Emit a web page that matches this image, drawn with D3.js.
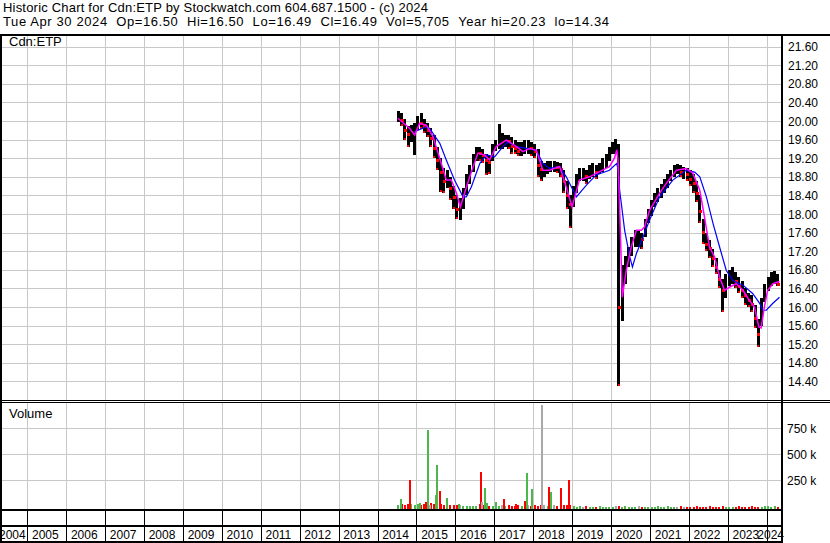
<!DOCTYPE html>
<html>
<head>
<meta charset="utf-8">
<script src="https://cdn.jsdelivr.net/npm/d3@7"></script>
<style>
body { margin: 0; background: #fff; }
svg { display: block; font-family: "Liberation Sans", Arial, sans-serif; }
</style>
</head>
<body>
<svg class="chart"></svg>
<script>
// monthly bars, Jul 2014 .. Apr 2024
var firstMonth = new Date(2014, 6, 1);
var closes = [
    20.10, 20.02, 19.80, 19.70, 19.75, 19.85,
    20.00, 19.95, 19.88, 19.80, 19.62, 19.40, 19.15, 18.90, 18.70, 18.75, 18.55, 18.35,
    18.10, 18.10, 18.35, 18.65, 18.90, 19.15, 19.35, 19.30, 19.25, 19.15, 19.10, 19.35,
    19.50, 19.55, 19.55, 19.60, 19.55, 19.45, 19.40, 19.35, 19.40, 19.45, 19.45, 19.40,
    19.35, 19.05, 18.95, 18.95, 19.00, 19.05, 19.05, 19.00, 18.95, 18.70, 18.40, 18.20,
    18.45, 18.70, 18.85, 18.85, 18.80, 18.90, 18.95, 18.90, 19.00, 19.05, 19.15, 19.30,
    19.45, 19.45, 16.00, 16.20, 16.85, 17.10, 17.35, 17.50, 17.50, 17.45, 17.75, 17.95,
    18.15, 18.30, 18.40, 18.50, 18.60, 18.70, 18.85, 18.95, 18.95, 18.90, 18.90, 18.85,
    18.75, 18.65, 18.45, 18.05, 17.60, 17.35, 17.25, 17.05, 16.85, 16.60, 16.35, 16.45,
    16.65, 16.70, 16.55, 16.45, 16.35, 16.25, 16.15, 16.05, 15.75, 15.40, 15.95, 16.35,
    16.50, 16.60, 16.65, 16.49
];
var highs = [
    20.22, 20.18, 20.05, 19.90, 19.92, 19.95,
    20.10, 20.17, 20.05, 19.95, 19.85, 19.70, 19.45, 19.20, 19.00, 18.95, 18.80, 18.60,
    18.40, 18.35, 18.55, 18.85, 19.05, 19.30, 19.45, 19.45, 19.40, 19.30, 19.25, 19.50,
    19.60, 19.93, 19.75, 19.70, 19.70, 19.65, 19.60, 19.55, 19.55, 19.60, 19.60, 19.55,
    19.50, 19.40, 19.15, 19.10, 19.15, 19.15, 19.15, 19.12, 19.10, 18.95, 18.70, 18.40,
    18.60, 18.85, 19.00, 19.00, 18.95, 19.05, 19.10, 19.05, 19.10, 19.20, 19.30, 19.45,
    19.55, 19.62, 19.50, 16.90, 17.10, 17.30, 17.50, 17.65, 17.65, 17.60, 17.90, 18.10,
    18.30, 18.45, 18.55, 18.65, 18.75, 18.85, 18.95, 19.05, 19.08, 19.05, 19.02, 19.00,
    18.95, 18.85, 18.70, 18.40, 17.90, 17.60, 17.45, 17.25, 17.05, 16.80, 16.60, 16.70,
    16.80, 16.85, 16.75, 16.65, 16.55, 16.40, 16.30, 16.25, 16.05, 15.75, 16.20, 16.50,
    16.65, 16.75, 16.78, 16.70
];
var lows = [
    19.98, 19.90, 19.60, 19.45, 19.55, 19.27,
    19.80, 19.82, 19.75, 19.65, 19.45, 19.20, 18.95, 18.48, 18.45, 18.55, 18.30, 18.10,
    17.90, 17.87, 18.10, 18.40, 18.65, 18.90, 19.15, 19.15, 19.10, 18.84, 18.85, 19.15,
    19.35, 19.40, 19.40, 19.45, 19.40, 19.30, 19.28, 19.25, 19.25, 19.30, 19.30, 19.25,
    19.20, 18.80, 18.72, 18.80, 18.85, 18.90, 18.90, 18.88, 18.80, 18.45, 18.10, 17.70,
    18.15, 18.45, 18.70, 18.70, 18.65, 18.75, 18.80, 18.75, 18.85, 18.90, 19.00, 19.15,
    19.30, 19.30, 14.31, 15.70, 16.50, 16.85, 17.10, 17.30, 17.30, 17.25, 17.50, 17.80,
    17.95, 18.15, 18.25, 18.35, 18.45, 18.55, 18.70, 18.80, 18.85, 18.80, 18.75, 18.70,
    18.60, 18.45, 18.25, 17.80, 17.35, 17.20, 17.05, 16.85, 16.70, 16.40, 15.90, 16.20,
    16.45, 16.50, 16.40, 16.30, 16.20, 16.05, 16.00, 15.90, 15.55, 15.15, 15.60, 16.10,
    16.35, 16.45, 16.50, 16.45
];
// typical monthly volume (thousands)
var monthVol = [
    15, 25, 20, 30, 25, 20,
    30, 20, 25, 20, 35, 25, 40, 30, 20, 25, 15, 20,
    15, 20, 10, 12, 10, 8, 12, 25, 15, 20, 12, 10,
    15, 10, 20, 12, 15, 10, 12, 15, 10, 20, 15, 12,
    15, 10, 20, 15, 12, 10, 15, 12, 10, 15, 20, 15,
    6, 4, 8, 4, 6, 4, 3, 4, 6, 4, 3, 4,
    4, 6, 10, 4, 6, 4, 3, 4, 8, 4, 3, 4,
    4, 3, 6, 4, 3, 8, 4, 3, 4, 6, 3, 4,
    3, 4, 6, 4, 3, 4, 10, 4, 3, 4, 6, 4,
    4, 3, 4, 6, 3, 4, 3, 6, 4, 3, 4, 8,
    10, 4, 6, 3
];
// single-day volume spikes
var spikeDates = ["2014-08-12", "2014-10-29", "2015-02-01", "2015-04-04", "2015-04-19", "2015-05-12",
    "2015-07-01", "2015-07-17", "2015-08-08", "2015-10-18", "2016-02-04", "2016-09-01", "2016-09-10",
    "2016-10-02", "2016-10-28", "2017-01-20", "2017-03-29", "2017-07-20", "2017-10-12", "2017-11-03",
    "2017-12-24", "2018-03-27", "2018-05-28", "2018-06-13", "2018-09-22", "2018-11-28"];
var spikeVols = [80, 261, 36, 48, 745, 20, 116, 403, 155, 87, 26, 338, 48, 184, 36, 48, 77, 29, 55, 329,
    174, 990, 193, 145, 184, 261];
var spikeDirs = ["g", "r", "g", "r", "g", "n", "g", "g", "r", "g", "g", "r", "n", "g", "g", "g", "r", "r", "r", "g",
    "g", "n", "r", "g", "r", "r"];

// moving averages
var fastMA = [
    ["2014-07-11", 20.06], ["2014-10-30", 19.84], ["2014-12-15", 19.70], ["2015-01-30", 19.95],
    ["2015-04-04", 19.91], ["2015-06-06", 19.66], ["2015-08-07", 19.20], ["2015-10-08", 18.73],
    ["2015-11-24", 18.73], ["2016-01-11", 18.45], ["2016-02-17", 18.15], ["2016-03-28", 18.45],
    ["2016-05-15", 18.80], ["2016-07-31", 19.31], ["2016-10-01", 19.27], ["2016-11-17", 19.16],
    ["2017-01-19", 19.45], ["2017-04-23", 19.59], ["2017-07-27", 19.45], ["2017-09-27", 19.34],
    ["2017-11-28", 19.41], ["2018-01-30", 19.37], ["2018-04-01", 18.94], ["2018-06-03", 18.94],
    ["2018-09-06", 19.02], ["2018-11-07", 18.58], ["2019-01-01", 18.15], ["2019-03-10", 18.73],
    ["2019-06-13", 18.80], ["2019-09-16", 18.91], ["2019-12-17", 19.02], ["2020-02-02", 19.20],
    ["2020-02-24", 19.38], ["2020-03-07", 19.16], ["2020-03-28", 17.65], ["2020-04-16", 16.21],
    ["2020-05-23", 16.79], ["2020-07-09", 17.29], ["2020-08-26", 17.65], ["2020-10-12", 17.65],
    ["2020-11-10", 17.72], ["2020-12-28", 18.08], ["2021-04-01", 18.45], ["2021-06-03", 18.66],
    ["2021-09-06", 18.94], ["2021-12-06", 18.98], ["2022-02-06", 18.88], ["2022-04-13", 18.51],
    ["2022-05-27", 17.94], ["2022-07-13", 17.29], ["2022-08-29", 17.08], ["2022-10-16", 16.64],
    ["2022-12-02", 16.36], ["2023-01-19", 16.43], ["2023-03-22", 16.50], ["2023-05-23", 16.36],
    ["2023-07-23", 16.14], ["2023-09-09", 16.00], ["2023-10-19", 15.57], ["2023-11-10", 15.55],
    ["2023-12-10", 16.00], ["2024-01-10", 16.36], ["2024-02-28", 16.50], ["2024-04-30", 16.55]
];
var slowMA = [
    ["2014-12-15", 19.77], ["2015-04-04", 19.88], ["2015-05-05", 19.84], ["2015-08-08", 19.52],
    ["2015-10-08", 19.16], ["2015-12-24", 18.73], ["2016-03-14", 18.37], ["2016-04-13", 18.37],
    ["2016-05-30", 18.58], ["2016-08-18", 19.09], ["2016-10-19", 19.27], ["2017-01-04", 19.23],
    ["2017-03-22", 19.45], ["2017-05-08", 19.55], ["2017-07-27", 19.45], ["2017-10-27", 19.41],
    ["2018-01-30", 19.37], ["2018-04-01", 19.09], ["2018-06-03", 18.98], ["2018-09-06", 19.02],
    ["2018-11-07", 18.80], ["2019-02-10", 18.37], ["2019-05-15", 18.62], ["2019-08-15", 18.84],
    ["2019-12-17", 18.94], ["2020-02-24", 19.09], ["2020-03-07", 18.95], ["2020-03-22", 18.51],
    ["2020-05-08", 17.65], ["2020-06-25", 17.08], ["2020-07-20", 16.86], ["2020-08-26", 17.15],
    ["2020-10-27", 17.50], ["2020-12-28", 17.87], ["2021-04-01", 18.37], ["2021-08-03", 18.73],
    ["2021-12-06", 18.94], ["2022-02-24", 18.90], ["2022-04-13", 18.80], ["2022-06-14", 18.37],
    ["2022-08-15", 17.80], ["2022-10-16", 17.29], ["2022-12-17", 16.79], ["2023-02-17", 16.57],
    ["2023-05-23", 16.47], ["2023-08-22", 16.29], ["2023-10-27", 16.08], ["2023-11-25", 15.93],
    ["2023-12-28", 15.93], ["2024-02-28", 16.08], ["2024-04-30", 16.21]
];

var priceTicks = [14.4, 14.8, 15.2, 15.6, 16.0, 16.4, 16.8, 17.2, 17.6, 18.0, 18.4, 18.8, 19.2, 19.6,
    20.0, 20.4, 20.8, 21.2, 21.6];
var volTicks = [250000, 500000, 750000];
var volTickLabels = ["250 k", "500 k", "750 k"];
var years = [2004, 2005, 2006, 2007, 2008, 2009, 2010, 2011, 2012, 2013, 2014, 2015, 2016, 2017, 2018,
    2019, 2020, 2021, 2022, 2023, 2024];

var headerLine1 = "Historic Chart for Cdn:ETP by Stockwatch.com 604.687.1500 - (c) 2024";
var headerLine2 = "Tue Apr 30 2024  Op=16.50  Hi=16.50  Lo=16.49  Cl=16.49  Vol=5,705  Year hi=20.23  lo=14.34";

function show() {
    'use strict';
    var W = 830, H = 543;
    var plot = {left: 2, right: 781, top: 36, bottom: 400};
    var vol = {top: 403, bottom: 509};
    var grid = "#c8c8c8";

    var svg = d3.select(".chart").attr("width", W).attr("height", H);
    svg.append("rect").attr("width", W).attr("height", H).attr("fill", "#fff");

    var parse = d3.timeParse("%Y-%m-%d");
    var x = d3.scaleTime()
        .domain([new Date(2005, 0, 1), new Date(2024, 0, 1)])
        .range([27.3, 766.7]);
    var y = d3.scaleLinear().domain([14, 21.85]).range([400, 35]);
    var yv = d3.scaleLinear().domain([0, 1000000]).range([507, 403.6]);

    var defs = svg.append("defs");
    defs.append("clipPath").attr("id", "pclip").append("rect")
        .attr("x", plot.left).attr("y", plot.top)
        .attr("width", plot.right - plot.left).attr("height", plot.bottom - plot.top);
    defs.append("clipPath").attr("id", "vclip").append("rect")
        .attr("x", plot.left).attr("y", vol.top)
        .attr("width", plot.right - plot.left).attr("height", vol.bottom - vol.top);

    // header (double spaces kept)
    var nb = function(s) { return s.replace(/  /g, "\u00a0\u00a0"); };
    var head = svg.append("g").attr("font-size", 13).attr("fill", "#000");
    head.append("text").attr("x", 3).attr("y", 12)
        .attr("textLength", 425).attr("lengthAdjust", "spacing").text(nb(headerLine1));
    head.append("text").attr("x", 3).attr("y", 26)
        .attr("textLength", 606).attr("lengthAdjust", "spacing").text(nb(headerLine2));

    var yearLines = years.slice(1).map(function(yr) { return Math.round(x(new Date(yr, 0, 1))) + 0.5; });

    // grid
    var g = svg.append("g").attr("stroke", grid).attr("stroke-width", 1).attr("shape-rendering", "crispEdges");
    g.selectAll(".py").data(priceTicks).enter().append("line")
        .attr("x1", plot.left).attr("x2", plot.right)
        .attr("y1", function(d) { return Math.round(y(d)) + 0.5; })
        .attr("y2", function(d) { return Math.round(y(d)) + 0.5; });
    g.selectAll(".vy").data(volTicks).enter().append("line")
        .attr("x1", plot.left).attr("x2", plot.right)
        .attr("y1", function(d) { return Math.round(yv(d)) - 0.5; })
        .attr("y2", function(d) { return Math.round(yv(d)) - 0.5; });
    g.selectAll(".px").data(yearLines).enter().append("line")
        .attr("x1", function(d) { return d; }).attr("x2", function(d) { return d; })
        .attr("y1", plot.top).attr("y2", plot.bottom);
    g.selectAll(".vx").data(yearLines).enter().append("line")
        .attr("x1", function(d) { return d; }).attr("x2", function(d) { return d; })
        .attr("y1", vol.top).attr("y2", vol.bottom);

    // price bars
    var months = closes.map(function(c, i) {
        var m = d3.timeMonth.offset(firstMonth, i);
        return {date: new Date(m.getFullYear(), m.getMonth(), 15), c: c, h: highs[i], l: lows[i],
            down: i > 0 && c < closes[i - 1], up: i === 0 || c > closes[i - 1], v: monthVol[i] * 1000};
    });
    var pg = svg.append("g").attr("clip-path", "url(#pclip)").attr("shape-rendering", "crispEdges");
    pg.selectAll(".bar").data(months).enter().append("rect")
        .attr("x", function(d) { return x(d.date) - 1.5; })
        .attr("width", 3)
        .attr("y", function(d) { return y(d.h); })
        .attr("height", function(d) { return Math.max(1, y(d.l) - y(d.h)); })
        .attr("fill", "#000");
    pg.selectAll(".dn").data(months.filter(function(d) { return d.down; })).enter().append("rect")
        .attr("x", function(d) { return x(d.date) - 1; })
        .attr("width", 3)
        .attr("y", function(d) { return y(d.c) - 1.5; })
        .attr("height", 3)
        .attr("fill", "#ff0000");
    pg.selectAll(".lo").data(months.filter(function(d) { return d.down; })).enter().append("rect")
        .attr("x", function(d) { return x(d.date) - 1; })
        .attr("width", 2)
        .attr("y", function(d) { return y(d.l) - 2; })
        .attr("height", 2)
        .attr("fill", "#ff0000");

    var line = d3.line()
        .x(function(d) { return x(parse(d[0])); })
        .y(function(d) { return y(d[1]); });
    pg.append("path").attr("d", line(slowMA)).attr("fill", "none")
        .attr("stroke", "#0000ff").attr("stroke-width", 1.2).attr("shape-rendering", "auto");
    pg.append("path").attr("d", line(fastMA)).attr("fill", "none")
        .attr("stroke", "#ff00ff").attr("stroke-width", 1.5).attr("shape-rendering", "auto");

    // volume
    var volColor = {g: "#4cb84c", r: "#ff0000", n: "#a8a8a8"};
    var vg = svg.append("g").attr("clip-path", "url(#vclip)").attr("shape-rendering", "crispEdges");
    vg.selectAll(".mv").data(months).enter().append("rect")
        .attr("x", function(d) { return x(d.date) - 1; })
        .attr("width", 2)
        .attr("y", function(d) { return yv(d.v); })
        .attr("height", function(d) { return vol.bottom - yv(d.v); })
        .attr("fill", function(d) { return d.down ? volColor.r : d.up ? volColor.g : volColor.n; });
    var spikes = spikeDates.map(function(s, i) {
        return {date: parse(s), v: spikeVols[i] * 1000, dir: spikeDirs[i]};
    });
    vg.selectAll(".sv").data(spikes).enter().append("rect")
        .attr("x", function(d) { return x(d.date) - 1; })
        .attr("width", 2)
        .attr("y", function(d) { return yv(d.v); })
        .attr("height", function(d) { return vol.bottom - yv(d.v); })
        .attr("fill", function(d) { return volColor[d.dir]; });

    // borders
    var b = svg.append("g").attr("fill", "#000").attr("shape-rendering", "crispEdges");
    b.append("rect").attr("x", 0).attr("y", 34).attr("width", W).attr("height", 2);
    b.append("rect").attr("x", 0).attr("y", 34).attr("width", 2).attr("height", H - 34);
    b.append("rect").attr("x", 781).attr("y", 34).attr("width", 2).attr("height", H - 34);
    b.append("rect").attr("x", 0).attr("y", 400).attr("width", W).attr("height", 1);
    b.append("rect").attr("x", 0).attr("y", 402).attr("width", W).attr("height", 1);
    b.append("rect").attr("x", 0).attr("y", 509).attr("width", 783).attr("height", 2);
    b.append("rect").attr("x", 0).attr("y", 525).attr("width", 783).attr("height", 2);
    b.append("rect").attr("x", 0).attr("y", 541).attr("width", 783).attr("height", 2);
    b.selectAll(".sep").data(yearLines).enter().append("rect")
        .attr("x", function(d) { return d - 0.5; })
        .attr("y", 511).attr("width", 1).attr("height", 30);

    // labels
    var t = svg.append("g").attr("font-size", 13).attr("fill", "#000");
    t.append("text").attr("x", 9).attr("y", 46).text("Cdn:ETP");
    t.append("text").attr("x", 9).attr("y", 418).text("Volume");

    var ax = svg.append("g").attr("font-size", 12).attr("fill", "#000");
    ax.selectAll(".pl").data(priceTicks).enter().append("text")
        .attr("x", 788).attr("y", function(d) { return y(d) + 4.5; })
        .text(function(d) { return d3.format(".2f")(d); });
    ax.selectAll(".vl").data(volTicks).enter().append("text")
        .attr("x", 787).attr("y", function(d) { return yv(d) + 4; })
        .text(function(d, i) { return volTickLabels[i]; });

    var yl = ax.selectAll(".yl").data(years).enter().append("text")
        .attr("y", 539)
        .text(function(d) { return d; });
    yl.attr("x", function(d) {
        var w = this.getComputedTextLength();
        var px = x(new Date(d, 0, 1)) + 4.7;
        return Math.max(-1, Math.min(784 - w, px));
    });
}
show();
</script>
</body>
</html>
